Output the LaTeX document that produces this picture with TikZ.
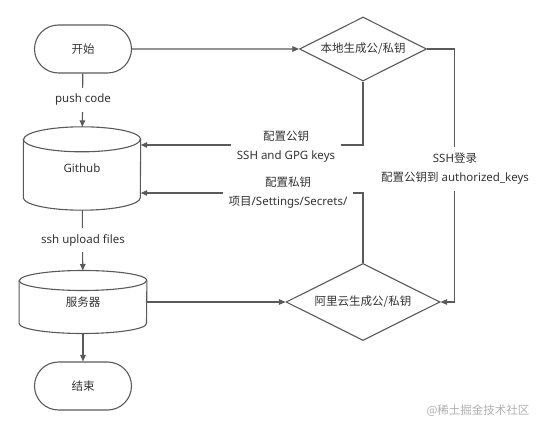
\documentclass[tikz,border=0pt]{standalone}
\usepackage{fontspec}
\setmainfont{Noto Sans}
\newfontfamily\cjk{Noto Sans CJK SC}
\usetikzlibrary{arrows.meta,shapes.geometric,shapes.misc}
\definecolor{linec}{HTML}{5A5A5A}
\definecolor{textc}{HTML}{333333}
\definecolor{wmc}{HTML}{B0B0B0}
\newcommand{\drawcyl}[3]{%
  \draw[shapeline] ([yshift=-#3]#1.north west) -- ([yshift=#3]#1.south west)
    arc[start angle=180,end angle=360,x radius=#2,y radius=#3]
    -- ([yshift=-#3]#1.north east)
    arc[start angle=0,end angle=180,x radius=#2,y radius=#3] -- cycle;
  \draw[shapeline] ([yshift=-#3]#1.north west)
    arc[start angle=180,end angle=360,x radius=#2,y radius=#3];
}
\tikzset{
  shapeline/.style={draw=linec,line width=1.1pt},
  term/.style={rounded rectangle,shapeline,minimum width=97pt,minimum height=48pt,inner sep=0pt},
  dia/.style={diamond,shapeline,aspect=2,inner sep=0pt},
  cylbox/.style={rectangle,inner sep=0pt},
  arr/.style={draw=linec,line width=1.1pt,-{Triangle[length=6.5pt,width=5.5pt]}},
  conn/.style={draw=linec,line width=1.1pt},
  lbl/.style={fill=white,inner sep=6pt,align=center,text=textc,font=\fontsize{11.5}{19}\selectfont},
}
\begin{document}
\begin{tikzpicture}[x=1pt,y=1pt,every node/.style={text=textc,font=\fontsize{11.5}{14}\selectfont}]
\useasboundingbox[fill=white] (0,0) rectangle (546,-430);
% nodes
\node[term] (start) at (83,-49) {\cjk 开始};
\node[dia,minimum width=127pt,minimum height=64pt] (d1) at (363,-49) {\cjk 本地生成公/私钥};
\node[cylbox,minimum width=117pt,minimum height=83pt] (gh) at (82,-168.5) {Github};
\drawcyl{gh}{58.5pt}{12.5pt}
\node[cylbox,minimum width=127.4pt,minimum height=62.6pt] (srv) at (83,-302) {\cjk 服务器};
\drawcyl{srv}{63.7pt}{10pt}
\node[dia,minimum width=154pt,minimum height=77pt] (d2) at (363,-302) {\cjk 阿里云生成公/私钥};
\node[term] (end) at (83,-386) {\cjk 结束};
\coordinate (rc) at (454.5,-49);
% connectors
\draw[arr] (start) -- (d1);
\draw[arr] (start) -- (gh);
\draw[arr] (gh) -- (srv);
\draw[arr] (srv) -- (end);
\draw[arr] (srv) -- (d2);
\draw[arr] (d1.south) |- ([yshift=23.5pt]gh.east);
\draw[arr] (d2.north) |- ([yshift=-24.5pt]gh.east);
\draw[arr] (d1.east) -- (rc) |- (d2.east);
% labels
\node[lbl] (lpush) at (83,-100) {push code};
\node[lbl] (lssh) at (83,-240) {ssh upload files};
\node[lbl] (lpub) at (286,-146.5) {{\cjk 配置公钥}\\SSH and GPG keys};
\node[lbl] (lpriv) at (288,-193) {{\cjk 配置私钥}\\{\cjk 项目}/Settings/Secrets/};
\node[lbl] (llogin) at (455,-169) {SSH{\cjk 登录}\\{\cjk 配置公钥到} authorized\_keys};
\node[text=wmc,anchor=east] (wm) at (533,-411) {\cjk @稀土掘金技术社区};
\end{tikzpicture}
\end{document}
